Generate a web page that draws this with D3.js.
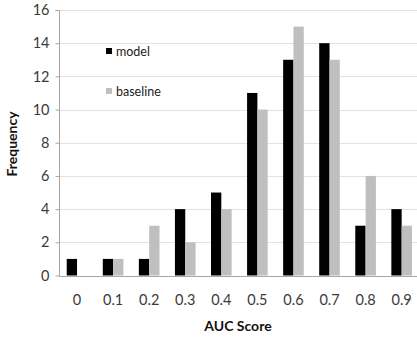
<!DOCTYPE html>
<html>
<head>
<meta charset="utf-8">
<script src="https://cdn.jsdelivr.net/npm/d3@7"></script>
<style>
  html, body { margin: 0; padding: 0; background: #fff; }
  svg { display: block; font-family: Lato, "Open Sans", sans-serif; }
</style>
</head>
<body>
<svg id="chart" width="417" height="337"></svg>
<script>
// AUC score histogram: model vs baseline
const categories = ["0", "0.1", "0.2", "0.3", "0.4", "0.5", "0.6", "0.7", "0.8", "0.9"];
const modelCounts = [1, 1, 1, 4, 5, 11, 13, 14, 3, 4];
const baselineCounts = [0, 1, 3, 2, 4, 10, 15, 13, 6, 3];
const yTicks = [0, 2, 4, 6, 8, 10, 12, 14, 16];
const seriesNames = ["model", "baseline"];
const seriesColors = ["#000000", "#bfbfbf"];

const svg = d3.select("#chart");
const plotLeft = 59, plotTop = 10, plotBottom = 275.5;
const band = 36.07;
const plotRight = plotLeft + band * categories.length;

const x = d3.scaleBand().domain(categories).range([plotLeft, plotRight]).paddingInner(0.428).paddingOuter(0.214);
const y = d3.scaleLinear().domain([0, 16]).range([plotBottom, plotTop]);
const sub = d3.scaleBand().domain(seriesNames).range([0, x.bandwidth()]);

// horizontal gridlines
svg.append("g").selectAll("line").data(yTicks.filter(d => d > 0)).join("line")
  .attr("x1", plotLeft).attr("x2", 417)
  .attr("y1", d => Math.round(y(d)) + 0.5).attr("y2", d => Math.round(y(d)) + 0.5)
  .attr("stroke", "#e6e2d6").attr("stroke-width", 1);

// y axis
const yAxis = svg.append("g").attr("transform", `translate(${plotLeft + 0.5},0)`)
  .call(d3.axisLeft(y).tickValues(yTicks).tickSize(4).tickPadding(6).tickFormat(d3.format("d")));
yAxis.select(".domain").attr("stroke", "#a6a6a6").attr("d", `M-4,${Math.round(plotTop)+0.5}H0V${Math.round(plotBottom)+0.5}`);
yAxis.selectAll(".tick line").attr("stroke", "#a6a6a6");
yAxis.selectAll(".tick text").attr("fill", "#3a3a3a").style("font-size", "14.5px").style("font-family", "Lato, sans-serif");

// bars
const data = categories.map((c, i) => ({ c, vals: [modelCounts[i], baselineCounts[i]] }));
const groups = svg.append("g").selectAll("g").data(data).join("g")
  .attr("transform", d => `translate(${x(d.c)},0)`);
groups.selectAll("rect").data(d => d.vals.map((v, k) => ({ v, k }))).join("rect")
  .attr("x", d => sub(seriesNames[d.k]))
  .attr("width", sub.bandwidth())
  .attr("y", d => y(d.v))
  .attr("height", d => y(0) - y(d.v))
  .attr("fill", d => seriesColors[d.k]);

// x axis
const xAxis = svg.append("g").attr("transform", `translate(0,${Math.round(plotBottom) + 0.5})`)
  .call(d3.axisBottom(x).tickSize(0).tickPadding(18));
xAxis.select(".domain").attr("stroke", "#a6a6a6").attr("d", `M${plotLeft + 0.5},0H417`);
xAxis.selectAll(".tick text").attr("fill", "#3a3a3a").style("font-size", "14.5px").style("font-family", "Lato, sans-serif");

// legend
const legend = svg.append("g");
seriesNames.forEach((name, i) => {
  const ly = 51 + i * 40;
  legend.append("rect").attr("x", 106).attr("y", ly - 3).attr("width", 6).attr("height", 6).attr("fill", seriesColors[i]);
  legend.append("text").attr("x", 116).attr("y", ly + 4.5).text(name)
    .attr("fill", "#222").style("font-size", "12.5px");
});

// axis titles
svg.append("text").attr("x", 238).attr("y", 331).attr("text-anchor", "middle")
  .style("font-weight", "bold").style("font-size", "14px").attr("fill", "#111").text("AUC Score");
svg.append("text").attr("transform", "translate(16.5,144) rotate(-90)").attr("text-anchor", "middle")
  .style("font-weight", "bold").style("font-size", "14px").attr("fill", "#111").text("Frequency");
</script>
</body>
</html>
